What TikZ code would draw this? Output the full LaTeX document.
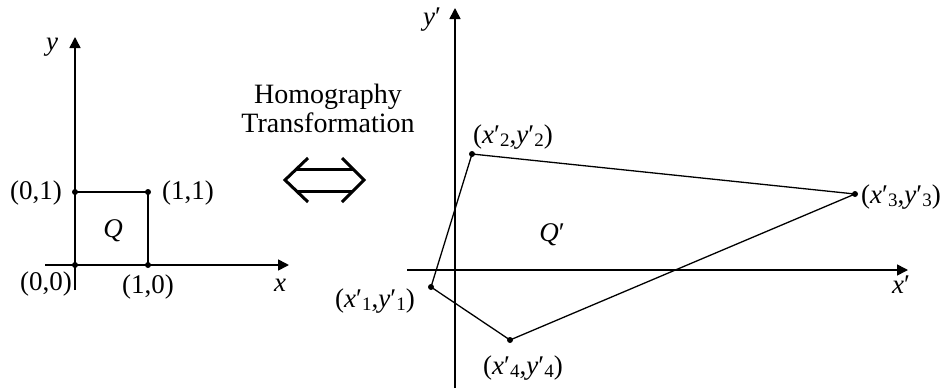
\documentclass[tikz,border=0pt]{standalone}
\usepackage{fontspec}
\setmainfont{Liberation Serif}
\usetikzlibrary{arrows.meta}
\tikzset{
  axis/.style={line width=1.6pt,-{Triangle[length=11pt,width=11pt]}},
  sqedge/.style={line width=1.6pt},
  polyedge/.style={line width=1.3pt},
  dot/.style={circle,fill=black,inner sep=0pt,minimum size=6pt},
  lbl/.style={font=\fontsize{27}{27}\selectfont, inner sep=0pt},
  head/.style={font=\fontsize{28}{28}\selectfont, inner sep=0pt, anchor=base},
  dbl/.style={line width=3pt, line join=miter},
}
\newcommand\mysub[1]{\raisebox{-3.5pt}{\fontsize{19}{19}\selectfont #1}}
\newcommand\mypt[1]{(\textit{x}′\mysub{#1},\textit{y}′\mysub{#1})}
\begin{document}
\begin{tikzpicture}[x=1pt,y=-1pt]
\useasboundingbox (0,0) rectangle (945,389);
% ---------- left coordinate system
\coordinate (lxs) at (45,265);
\coordinate (lxe) at (289,265);
\coordinate (lys) at (75,290);
\coordinate (lye) at (75,37);
\draw[axis] (lxs) -- (lxe);
\draw[axis] (lys) -- (lye);
\node[dot] (a) at (75,265) {};
\node[dot] (b) at (148,265) {};
\node[dot] (c) at (148,192) {};
\node[dot] (d) at (75,192) {};
\draw[sqedge] (a.center) -- (b.center) -- (c.center) -- (d.center) -- cycle;
\node[lbl] (ly) at (52,47) {\textit{y}};
\node[lbl] (lx) at (280,285) {\textit{x}};
\node[lbl] (l00) at (46,284) {(0,0)};
\node[lbl] (l10) at (148,287) {(1,0)};
\node[lbl] (l01) at (36,193) {(0,1)};
\node[lbl] (l11) at (188,193) {(1,1)};
\node[lbl] (lq) at (113,231) {\textit{Q}};
% ---------- middle
\node[head] (h1) at (328,103) {Homography};
\node[head] (h2) at (328,132) {Transformation};
\coordinate (al1) at (308,158);
\coordinate (al2) at (285,180);
\coordinate (al3) at (308,202);
\coordinate (ar1) at (342,158);
\coordinate (ar2) at (364,180);
\coordinate (ar3) at (342,202);
\coordinate (t1) at (297,169);
\coordinate (t2) at (353,169);
\coordinate (b1) at (297,191);
\coordinate (b2) at (353,191);
\draw[dbl] (al1) -- (al2) -- (al3);
\draw[dbl] (ar1) -- (ar2) -- (ar3);
\draw[dbl] (t1) -- (t2);
\draw[dbl] (b1) -- (b2);
% ---------- right coordinate system
\coordinate (rxs) at (407,270);
\coordinate (rxe) at (908,270);
\coordinate (rys) at (455,388);
\coordinate (rye) at (455,8);
\draw[axis] (rxs) -- (rxe);
\draw[axis] (rys) -- (rye);
\node[dot] (p1) at (431,287) {};
\node[dot] (p2) at (472,154) {};
\node[dot] (p3) at (855,194) {};
\node[dot] (p4) at (510,340) {};
\draw[polyedge] (p1.center) -- (p2.center) -- (p3.center) -- (p4.center) -- cycle;
\node[lbl] (ry) at (432,20) {\textit{y}′};
\node[lbl] (rx) at (901,285) {\textit{x}′};
\node[lbl] (rq) at (552,235) {\textit{Q}′};
\node[lbl] (q1) at (375,301) {\mypt{1}};
\node[lbl] (q2) at (513,137) {\mypt{2}};
\node[lbl] (q3) at (901,197) {\mypt{3}};
\node[lbl] (q4) at (523,368) {\mypt{4}};
\end{tikzpicture}
\end{document}
